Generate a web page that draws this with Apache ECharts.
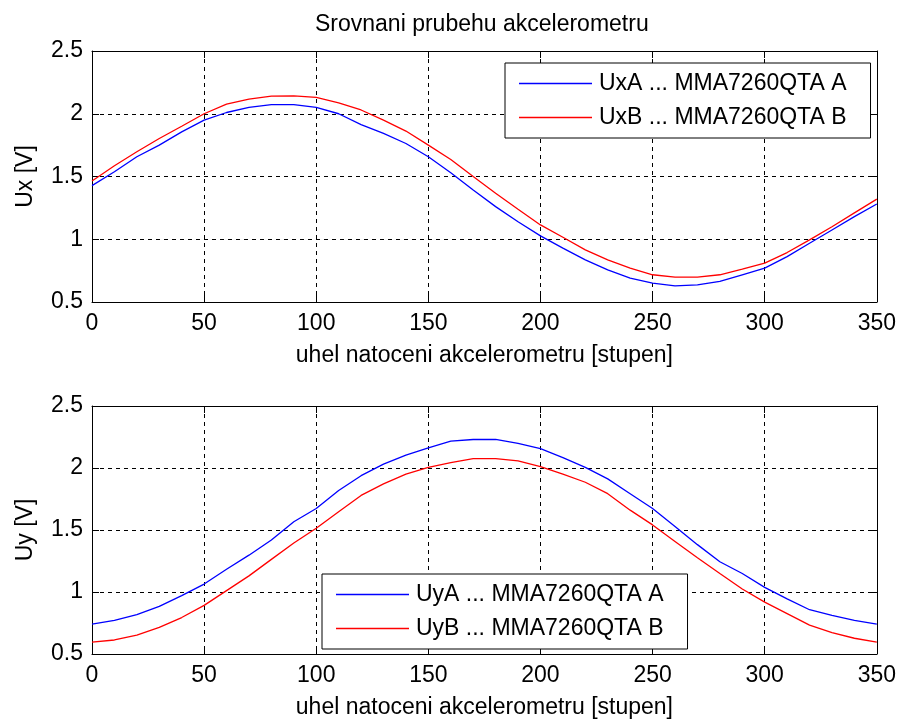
<!DOCTYPE html>
<html><head><meta charset="utf-8">
<script src="https://cdn.jsdelivr.net/npm/echarts@6/dist/echarts.min.js"></script>
<style>html,body{margin:0;padding:0;background:#fff}#c{width:899px;height:720px}</style>
</head><body><div id="c"></div>
<script>
const angles = [0,10,20,30,40,50,60,70,80,90,100,110,120,130,140,150,160,170,180,190,200,210,220,230,240,250,260,270,280,290,300,310,320,330,340,350];
const uxA = [1.427,1.538,1.657,1.75,1.856,1.949,2.01,2.05,2.073,2.073,2.05,2.0,1.914,1.843,1.763,1.657,1.53,1.392,1.26,1.14,1.027,0.929,0.836,0.756,0.69,0.65,0.629,0.637,0.664,0.717,0.77,0.862,0.968,1.074,1.18,1.281];
const uxB = [1.464,1.586,1.697,1.803,1.90,2.0,2.076,2.116,2.14,2.142,2.13,2.087,2.03,1.949,1.862,1.75,1.636,1.5,1.366,1.239,1.114,1.016,0.915,0.836,0.77,0.717,0.698,0.698,0.717,0.762,0.81,0.894,0.995,1.10,1.21,1.32];
const uyA = [0.741,0.772,0.817,0.884,0.971,1.064,1.183,1.297,1.42,1.567,1.673,1.819,1.938,2.031,2.103,2.163,2.216,2.23,2.23,2.198,2.156,2.084,2.005,1.912,1.793,1.673,1.528,1.382,1.244,1.149,1.037,0.945,0.857,0.812,0.772,0.741];
const uyB = [0.595,0.613,0.653,0.714,0.794,0.892,1.011,1.13,1.263,1.395,1.514,1.647,1.779,1.872,1.951,2.005,2.044,2.076,2.076,2.057,2.012,1.951,1.885,1.793,1.66,1.541,1.408,1.276,1.149,1.024,0.918,0.825,0.733,0.672,0.627,0.595];
const names = ['UxA ... MMA7260QTA A','UxB ... MMA7260QTA B','UyA ... MMA7260QTA A','UyB ... MMA7260QTA B'];
const titleText = 'Srovnani prubehu akcelerometru';
const xName = 'uhel natoceni akcelerometru [stupen]';
const yNames = ['Ux [V]','Uy [V]'];

const FONT = 'Liberation Sans';
const FS = 23;
const pair = (a) => angles.map((x,i)=>[x,a[i]]);

function xAx(grid, pos, lab){
  return {type:'value', gridIndex:grid, position:pos, min:0, max:350, interval:50,
    name: lab ? xName : '', nameLocation:'middle', nameGap:42,
    nameTextStyle:{fontFamily:FONT,fontSize:FS,color:'#000'},
    axisLine:{show:true,onZero:false,lineStyle:{color:'#000',width:1}},
    axisTick:{show:true,inside:true,length:7,lineStyle:{color:'#000',width:1}},
    axisLabel:{show:lab,margin:10,fontFamily:FONT,fontSize:FS,color:'#000'},
    splitLine:{show:lab,lineStyle:{color:'#000',type:[4,4],width:1}}};
}
function yAx(grid, pos, lab){
  return {type:'value', gridIndex:grid, position:pos, min:0.5, max:2.5, interval:0.5,
    name: lab ? yNames[grid] : '', nameLocation:'middle', nameGap:55,
    nameTextStyle:{fontFamily:FONT,fontSize:FS,color:'#000'},
    axisLine:{show:true,onZero:false,lineStyle:{color:'#000',width:1}},
    axisTick:{show:true,inside:true,length:7,lineStyle:{color:'#000',width:1}},
    axisLabel:{show:lab,margin:9,fontFamily:FONT,fontSize:FS,color:'#000'},
    splitLine:{show:lab,lineStyle:{color:'#000',type:[4,4],width:1}}};
}
function legend(left, top, data){
  return {show:true, orient:'vertical', left:left, top:top, data:data,
    icon:'rect', itemWidth:73, itemHeight:1.5, itemGap:11, padding:[9,24,9,14],
    borderColor:'#000', borderWidth:1, borderRadius:0, backgroundColor:'#fff',
    textStyle:{fontFamily:FONT,fontSize:FS,color:'#000',padding:[0,0,0,2]}, selectedMode:false};
}
function ser(name, data, color, xi, yi){
  return {type:'line', name:name, data:pair(data), xAxisIndex:xi, yAxisIndex:yi,
    symbol:'none', smooth:false, lineStyle:{color:color,width:1.3}, itemStyle:{color:color},
    animation:false, z:3};
}
const chart = echarts.init(document.getElementById('c'), null, {renderer:'canvas'});
chart.setOption({
  backgroundColor:'#fff',
  animation:false,
  title:{text:titleText, left:315, top:13, padding:0,
    textStyle:{fontFamily:FONT,fontSize:FS,fontWeight:'normal',color:'#000'}},
  grid:[{left:92,top:51,width:787,height:251},{left:92,top:406,width:787,height:252}],
  xAxis:[xAx(0,'bottom',true), xAx(0,'top',false), xAx(1,'bottom',true), xAx(1,'top',false)],
  yAxis:[yAx(0,'left',true), yAx(0,'right',false), yAx(1,'left',true), yAx(1,'right',false)],
  legend:[legend(505,63,[names[0],names[1]]), legend(322,574,[names[2],names[3]])],
  series:[ser(names[0],uxA,'#0000ff',0,0), ser(names[1],uxB,'#ff0000',0,0),
          ser(names[2],uyA,'#0000ff',2,2), ser(names[3],uyB,'#ff0000',2,2)]
});
</script></body></html>
